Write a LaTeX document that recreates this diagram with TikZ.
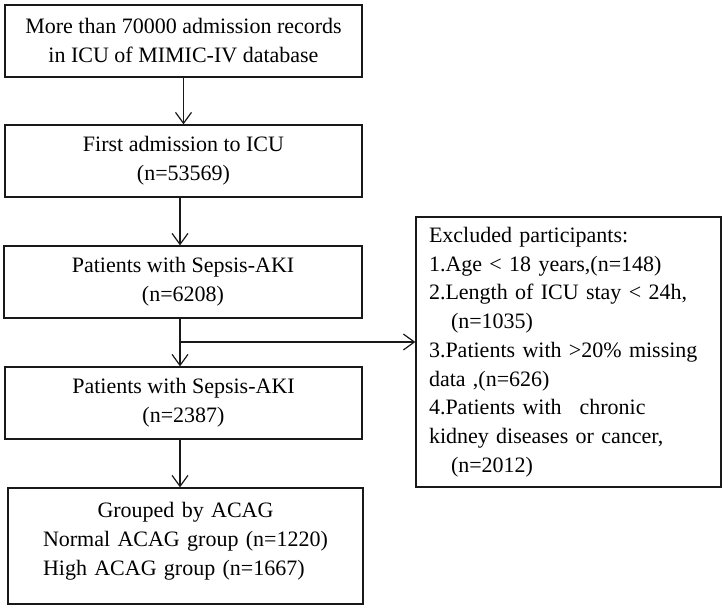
\documentclass[tikz,border=0pt]{standalone}
\usepackage{fontspec}
\setmainfont{Liberation Serif}
\usetikzlibrary{arrows.meta}
\begin{document}
\begin{tikzpicture}[x=1pt,y=-1pt,
  box/.style={draw=black!90, line width=1.3pt, inner sep=0pt, align=center,
    font=\fontsize{22}{29}\selectfont},
  arr/.style={draw=black!90, line width=1.2pt, -{Straight Barb[length=11pt,width=16pt,line width=1.2pt]}}]
\useasboundingbox (0,0) rectangle (723,606);
\node[box, minimum width=357pt, minimum height=72pt] (b1) at (183.5,41)
  {More than 70000 admission records\\in ICU of MIMIC-IV database};
\node[box, minimum width=357pt, minimum height=72pt] (b2) at (183.5,161)
  {First admission to ICU\\(n=53569)};
\node[box, minimum width=358pt, minimum height=72pt] (b3) at (183,282)
  {Patients with Sepsis-AKI\\(n=6208)};
\node[box, minimum width=357pt, minimum height=72pt] (b4) at (183.5,403)
  {Patients with Sepsis-AKI\\(n=2387)};
\node[box, minimum width=355pt, minimum height=116pt, align=left, text width=285pt] (b5) at (185.5,546)
  {\makebox[285pt][c]{Grouped by ACAG}\\Normal ACAG group (n=1220)\\High ACAG group (n=1667)\rule[-14pt]{0pt}{0pt}};
\node[box, minimum width=305pt, minimum height=270pt, align=left, text width=279pt,
  font=\fontsize{22}{28.75}\selectfont] (ex) at (568.5,352)
  {Excluded participants:\\
   1.Age < 18 years,(n=148)\\
   2.Length of ICU stay < 24h,\\
   \hspace*{22pt}(n=1035)\\
   3.Patients with >20\% missing\\
   data ,(n=626)\\
   4.Patients with\hspace{18pt}chronic\\
   kidney diseases or cancer,\\
   \hspace*{22pt}(n=2012)};
\coordinate (ax) at (180,0);
\coordinate (br) at (180,342);
\draw[arr] (b1.south) -- (b2.north);
\draw[arr] (b2.south -| ax) -- (b3.north -| ax);
\draw[arr] (b3.south -| ax) -- (b4.north -| ax);
\draw[arr] (b4.south -| ax) -- (b5.north -| ax);
\draw[arr] (br) -- (br -| ex.west);
\end{tikzpicture}
\end{document}
